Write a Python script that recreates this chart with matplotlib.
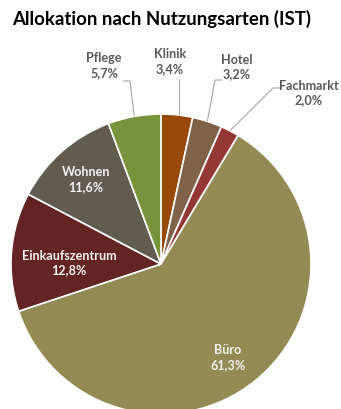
import numpy as np
import matplotlib
matplotlib.use("Agg")
import matplotlib.pyplot as plt

# Shares by usage type (clockwise from 12 o'clock)
categories = ["Klinik", "Hotel", "Fachmarkt", "Büro", "Einkaufszentrum", "Wohnen", "Pflege"]
shares = [3.4, 3.2, 2.0, 61.3, 12.8, 11.6, 5.7]
colors = ["#984807", "#7F6248", "#953735", "#948A54", "#632423", "#625B50", "#77933C"]
inside = [False, False, False, True, True, True, False]

W, H = 341, 410
fig = plt.figure(figsize=(W / 100, H / 100), dpi=100)
ax = fig.add_axes([0, 0, 1, 1])

cx, cy, r = 161, H - 265, 150
wedges, _ = ax.pie(
    shares, colors=colors, startangle=90, counterclock=False,
    center=(cx, cy), radius=r,
    wedgeprops=dict(edgecolor="white", linewidth=1.2),
)
ax.set_xlim(0, W)
ax.set_ylim(0, H)
ax.set_aspect("equal")
ax.axis("off")

font = "Lato"
def fmt(v):
    return f"{v:.1f}%".replace(".", ",")

# label placement (pixel coordinates, y measured from top)
label_pos = {
    "Klinik": (170, 62),
    "Hotel": (237, 67),
    "Fachmarkt": (309, 93),
    "Büro": (228, 358),
    "Einkaufszentrum": (69, 263),
    "Wohnen": (86, 180),
    "Pflege": (104, 66),
}
# leader line elbows for outside labels
elbows = {
    "Klinik": [(179, 80)],
    "Hotel": [(222, 81), (215, 81)],
    "Fachmarkt": [(280, 89), (273, 89)],
    "Pflege": [(123, 82), (130, 82)],
}

for w, cat, val, ins in zip(wedges, categories, shares, inside):
    x, y = label_pos[cat]
    col = "#F2F2F2" if ins else "#595959"
    ax.text(x, H - y, f"{cat}\n{fmt(val)}", ha="center", va="center",
            fontsize=9.1, fontweight="bold", color=col, family=font,
            linespacing=1.3)
    if not ins:
        mid = np.deg2rad((w.theta1 + w.theta2) / 2)
        ax_ = cx + r * np.cos(mid)
        ay_ = cy + r * np.sin(mid)
        pts = elbows[cat]
        if cat == "Klinik":
            xs = [pts[0][0], pts[0][0]]
            ys = [H - pts[0][1], ay_]
        else:
            xs = [p[0] for p in pts] + [ax_]
            ys = [H - p[1] for p in pts] + [ay_]
        ax.plot(xs, ys, color="#A6A6A6", lw=0.8, solid_capstyle="butt")

fig.text(12 / W, 1 - 19 / H, "Allokation nach Nutzungsarten (IST)",
         ha="left", va="center", fontsize=13.4, fontweight="bold",
         color="#000000", family=font)

fig.savefig("out.png", dpi=100)
